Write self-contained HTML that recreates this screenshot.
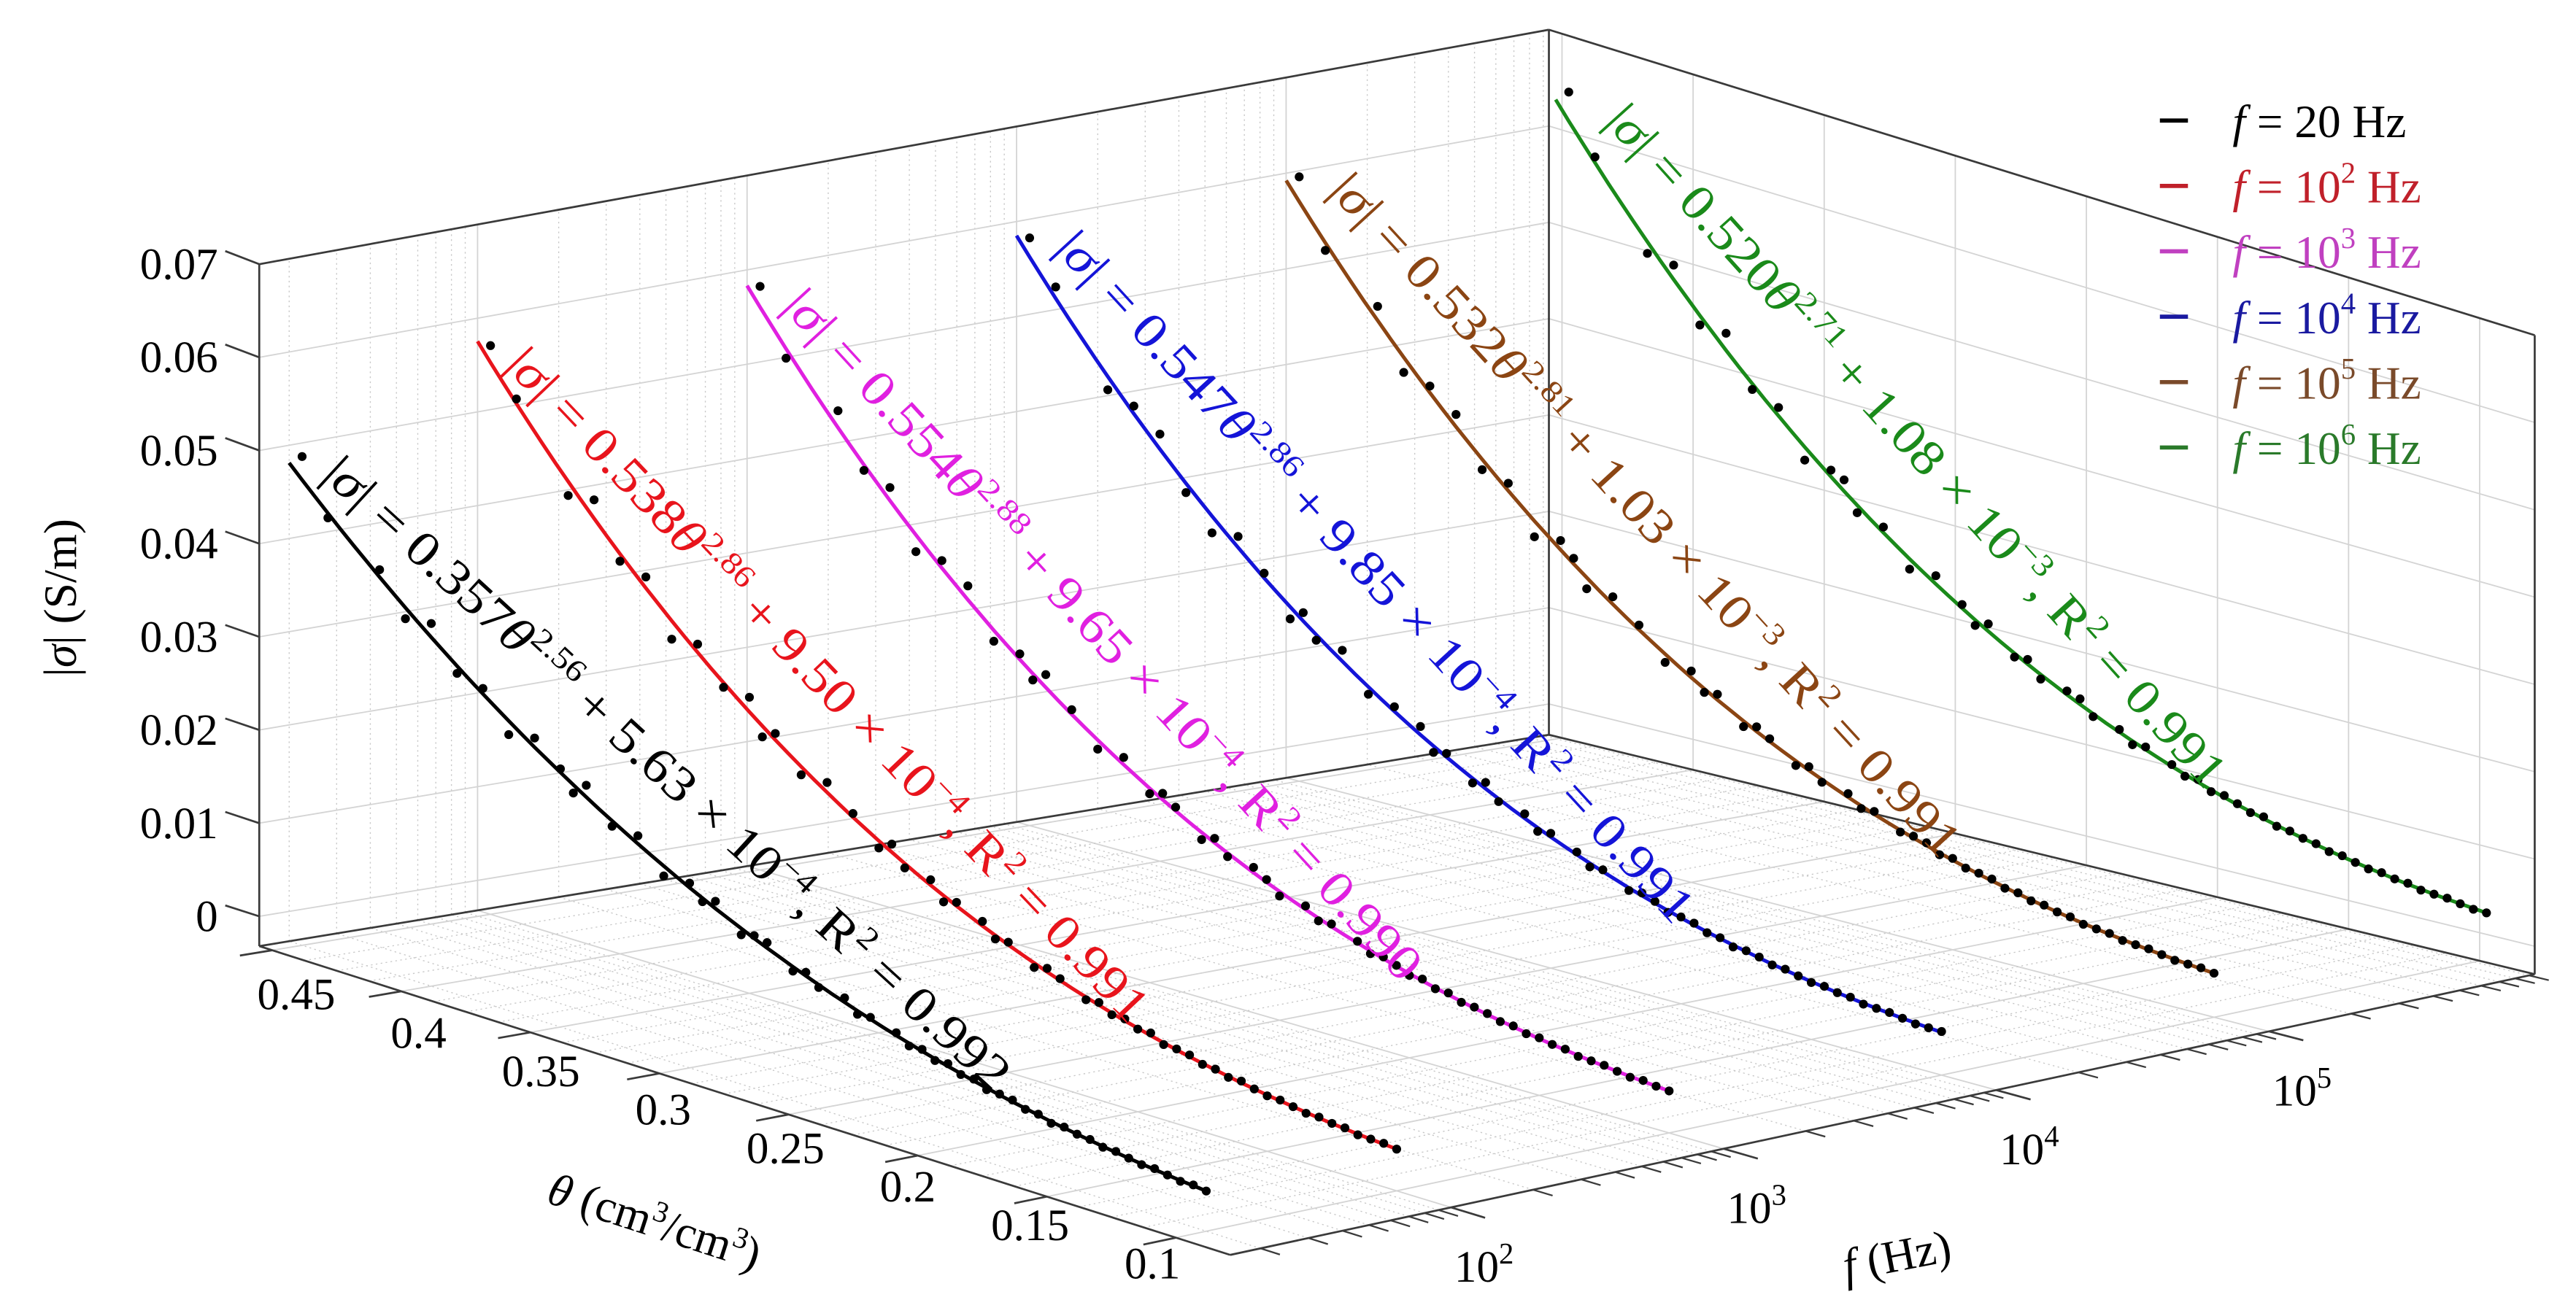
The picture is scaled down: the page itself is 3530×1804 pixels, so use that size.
<!DOCTYPE html>
<html><head><meta charset="utf-8"><title>Conductivity vs water content</title>
<style>html,body{margin:0;padding:0;background:#fff}svg{display:block}</style></head>
<body>
<svg id="chart" xmlns="http://www.w3.org/2000/svg" width="3530" height="1804" viewBox="0 0 1560 797" preserveAspectRatio="none" font-family="'Liberation Serif', serif">
<rect x="0" y="0" width="1560" height="797" fill="#fff"/>
<g id="grid"></g>
<g id="box"></g>
<g id="ticks"></g>
<g id="series"></g>
<g id="eqs"></g>
<g font-size="28" id="legend"></g>
<text transform="translate(46,362) rotate(-90)" text-anchor="middle" font-size="28">|<tspan font-style="italic">σ</tspan>| (S/m)</text>
<text transform="translate(330,728) rotate(18)" font-size="28"><tspan font-style="italic">θ</tspan> (cm<tspan dy="-10" font-size="18">3</tspan><tspan dy="10">/cm</tspan><tspan dy="-10" font-size="18">3</tspan><tspan dy="10">)</tspan></text>
<text transform="translate(1118,776) rotate(-11)" font-size="28"><tspan font-style="italic">f</tspan> (Hz)</text>
</svg>
<script>
const freqs=[20,100,1000,10000,100000,1000000];
const coefs=[0.357,0.538,0.554,0.547,0.532,0.520];
const expos=[2.56,2.86,2.88,2.86,2.81,2.71];
const intercepts=[5.63e-4,9.50e-4,9.65e-4,9.85e-4,1.03e-3,1.08e-3];
const r2s=["0.992","0.991","0.990","0.991","0.991","0.991"];
const expLabels=["−4","−4","−4","−4","−3","−3"];
const mantissas=["5.63","9.50","9.65","9.85","1.03","1.08"];
const colors=["#000000","#e8141c","#e020e0","#1414d8","#8b4513","#1a8a1a"];
const legendColors=["#000000","#c0202a","#c040c0","#1a1aa0","#7a4a2a","#2a7a2a"];
const legendExp=["","2","3","4","5","6"];
const thetas=[0.45,0.44,0.42,0.41,0.40,0.39,0.38,0.37,0.36,0.35,
0.345,0.34,0.33,0.32,0.31,0.30,0.295,0.29,0.28,0.275,
0.27,0.26,0.255,0.25,0.24,0.235,0.23,0.22,0.215,0.21,
0.205,0.20,0.195,0.19,0.185,0.18,0.175,0.17,0.165,0.16,
0.155,0.15,0.145,0.14,0.135,0.13,0.125,0.12,0.115,0.11,0.105,0.10];
// residuals in 1e-3 S/m
const res0=[2.5,-0.5,0.8,-1.2,1.5,-0.8,0.6,-1.5,1.0,0.4,-0.9,1.3,-0.6,0.9,-1.1,0.5,-0.4,0.8,-0.7,0.3,0.6,-0.5,0.4,-0.3,0.5,-0.4,0.2,0.3,-0.3,0.2,-0.2,0.3,-0.1,0.2,-0.2,0.1,0.2,-0.1,0.1,-0.2,0.1,0.0,0.1,-0.1,0.1,0.0,-0.1,0.1,0.0,-0.1,0.1,0.0];
const res1=[1.8,0.5,-1.5,2.0,-0.8,1.2,-2.0,0.9,-0.5,1.6,-1.2,0.7,-0.9,1.1,0.4,-0.8,0.9,-0.5,0.6,-0.7,0.4,0.5,-0.4,0.3,-0.5,0.4,0.2,-0.3,0.3,-0.2,0.2,-0.1,0.3,-0.2,0.1,0.2,-0.1,0.1,-0.1,0.2,0.0,-0.1,0.1,0.0,-0.1,0.1,0.0,0.1,-0.1,0.0,0.1,0.0];
const res2=[2.2,-1.0,1.8,-0.6,1.4,-1.8,0.8,1.5,-1.2,0.6,-0.7,1.4,0.5,-1.0,0.8,-0.6,0.7,0.4,-0.8,0.5,-0.4,0.6,0.3,-0.5,0.4,-0.3,0.3,0.2,-0.3,0.2,0.1,-0.2,0.2,-0.1,0.2,-0.1,0.1,0.1,-0.1,0.1,-0.1,0.1,0.0,0.1,-0.1,0.0,0.1,0.0,-0.1,0.1,0.0,0.0];
const res3=[2.0,1.2,-1.4,0.8,1.6,-1.0,-1.8,1.2,0.5,-1.3,0.9,-0.6,1.2,-0.8,0.5,0.9,-0.7,0.4,-0.5,0.7,-0.3,0.5,-0.4,0.4,0.3,-0.4,0.2,-0.3,0.3,0.2,-0.2,0.1,0.2,-0.1,0.1,-0.2,0.1,0.1,-0.1,0.1,0.0,-0.1,0.1,0.0,0.1,-0.1,0.0,0.1,0.0,-0.1,0.0,0.1];
const res4=[2.6,-0.8,1.5,-1.6,0.7,1.3,-1.1,0.8,-1.7,1.0,0.6,-1.2,0.8,0.5,-0.9,0.7,-0.4,0.6,-0.6,0.5,0.3,-0.5,0.4,-0.3,0.4,-0.3,0.3,-0.2,0.2,0.3,-0.2,0.2,-0.1,0.1,0.2,-0.1,0.1,-0.1,0.1,0.0,0.1,-0.1,0.0,0.1,-0.1,0.0,0.1,0.0,-0.1,0.0,0.1,0.0];
const res5=[3.0,0.6,-1.2,1.5,-1.0,1.8,-0.6,0.9,-1.4,0.7,1.2,-0.8,0.6,-1.1,0.9,0.4,-0.6,0.8,-0.4,0.5,-0.5,0.4,0.6,-0.3,0.3,-0.4,0.3,0.2,-0.2,0.3,-0.2,0.2,0.1,-0.1,0.2,-0.1,0.1,0.0,0.1,-0.1,0.1,0.0,-0.1,0.1,0.0,0.1,-0.1,0.0,0.1,0.0,-0.1,0.0];
const residuals=[res0,res1,res2,res3,res4,res5];
const zTicks=[0,0.01,0.02,0.03,0.04,0.05,0.06,0.07];
const zTickLabels=["0","0.01","0.02","0.03","0.04","0.05","0.06","0.07"];
const thetaTicks=[0.1,0.15,0.2,0.25,0.3,0.35,0.4,0.45];
const thetaTickLabels=["0.1","0.15","0.2","0.25","0.3","0.35","0.4","0.45"];
const fDecades=[2,3,4,5];

const NS="http://www.w3.org/2000/svg";
const ZMIN=-0.0032,ZMAX=0.07,TH0=0.079,TH1=0.455,LF0=1.19,LF1=5.975;
const C={F:[745,760,373],L:[157,573,413],B:[938,445,427],R:[1535,590,387]};
function uOf(t){return (t-TH0)/(TH1-TH0);}
function vOf(f){return (Math.log10(f)-LF0)/(LF1-LF0);}
function P(u,v,s){
  const a=(1-u)*(1-v),b=u*(1-v),c=u*v,d=(1-u)*v;
  const x=a*C.F[0]+b*C.L[0]+c*C.B[0]+d*C.R[0];
  const y=a*C.F[1]+b*C.L[1]+c*C.B[1]+d*C.R[1];
  const h=a*C.F[2]+b*C.L[2]+c*C.B[2]+d*C.R[2];
  return [x,y-(s-ZMIN)/(ZMAX-ZMIN)*h];
}
function mk(tag,attrs,parent){const e=document.createElementNS(NS,tag);for(const k in attrs)e.setAttribute(k,attrs[k]);parent.appendChild(e);return e;}
function ln(p,q,st,w,dash,parent,name){
  const e=mk('line',{x1:p[0],y1:p[1],x2:q[0],y2:q[1],stroke:st,'stroke-width':w},parent);
  if(dash)e.setAttribute('stroke-dasharray',dash);
  
  
  return e;
}
const grid=document.getElementById('grid'),box=document.getElementById('box'),tk=document.getElementById('ticks');
const GC="#d4d4d4",MC="#c8c8c8";
const fMinors=[];for(let d=1;d<=6;d++)for(let m=2;m<=9;m++){const lf=d+Math.log10(m);if(lf>LF0&&lf<LF1)fMinors.push(Math.pow(10,lf));}
// floor
fMinors.forEach(f=>{const v=vOf(f);ln(P(0,v,ZMIN),P(1,v,ZMIN),MC,0.6,"1 2",grid,'floor-minor-f');});
fDecades.forEach(d=>{const v=vOf(Math.pow(10,d));ln(P(0,v,ZMIN),P(1,v,ZMIN),GC,0.8,null,grid,'floor-grid-f');});
for(let t=0.1125;t<0.455;t+=0.0125){const u=uOf(t);ln(P(u,0,ZMIN),P(u,1,ZMIN),MC,0.6,"1 2",grid,'floor-minor-theta');}
thetaTicks.forEach(t=>{const u=uOf(t);ln(P(u,0,ZMIN),P(u,1,ZMIN),GC,0.8,null,grid,'floor-grid-theta');});
// left wall u=1
fMinors.forEach(f=>{const v=vOf(f);ln(P(1,v,ZMIN),P(1,v,ZMAX),MC,0.6,"1 2",grid,'left-wall-minor-f');});
fDecades.forEach(d=>{const v=vOf(Math.pow(10,d));ln(P(1,v,ZMIN),P(1,v,ZMAX),GC,0.8,null,grid,'left-wall-grid-f');});
zTicks.forEach(z=>{ln(P(1,0,z),P(1,1,z),GC,0.8,null,grid,'left-wall-grid-z');ln(P(0,1,z),P(1,1,z),GC,0.8,null,grid,'right-wall-grid-z');});
// right wall v=1
thetaTicks.forEach(t=>{const u=uOf(t);ln(P(u,1,ZMIN),P(u,1,ZMAX),GC,0.8,null,grid,'right-wall-grid-theta');});
// box edges
const E="#3a3a3a";
[[[1,0,ZMIN],[1,0,ZMAX]],[[1,1,ZMIN],[1,1,ZMAX]],[[0,1,ZMIN],[0,1,ZMAX]],[[1,0,ZMAX],[1,1,ZMAX]],[[1,1,ZMAX],[0,1,ZMAX]],
 [[1,0,ZMIN],[1,1,ZMIN]],[[1,1,ZMIN],[0,1,ZMIN]],[[1,0,ZMIN],[0,0,ZMIN]],[[0,0,ZMIN],[0,1,ZMIN]]].forEach(e=>{
  ln(P(...e[0]),P(...e[1]),E,1.2,null,box,'box-edge');});
// z ticks
zTicks.forEach((z,i)=>{const p=P(1,0,z),q=P(1.035,0,z);ln(p,q,E,1.2,null,tk,'z-tick');
  const t=mk('text',{x:132,y:p[1]+9,'text-anchor':'end','font-size':27},tk);t.textContent=zTickLabels[i];
  
  });
// theta ticks
thetaTicks.forEach((th,i)=>{const u=uOf(th),p=P(u,0,ZMIN),q=P(u,-0.025,ZMIN);ln(p,q,E,1.2,null,tk,'theta-tick');
  const t=mk('text',{x:p[0]-16+31*u,y:p[1]+24+12*u,'text-anchor':'middle','font-size':27},tk);t.textContent=thetaTickLabels[i];
  
  });
// f ticks
fMinors.forEach(f=>{const v=vOf(f);ln(P(0,v,ZMIN),P(-0.02,v,ZMIN),E,1,null,tk,'f-minor-tick');});
fDecades.forEach(d=>{const v=vOf(Math.pow(10,d)),p=P(0,v,ZMIN);ln(p,P(-0.035,v,ZMIN),E,1.2,null,tk,'f-tick');
  const t=mk('text',{x:p[0]+2,y:p[1]+45,'font-size':27},tk);t.innerHTML='10<tspan dy="-11" font-size="18">'+d+'</tspan>';
  
  });
// series
const sg=document.getElementById('series');
freqs.forEach((f,i)=>{const v=vOf(f);let pts=[];
  for(let th=0.1;th<=0.4551;th+=0.005){const s=coefs[i]*Math.pow(th,expos[i])+intercepts[i];const p=P(uOf(th),v,s);pts.push(p[0].toFixed(1)+','+p[1].toFixed(1));}
  const pl=mk('polyline',{points:pts.join(' '),fill:'none',stroke:colors[i],'stroke-width':2.2},sg);
  
  
  thetas.forEach((th,k)=>{const s=coefs[i]*Math.pow(th,expos[i])+intercepts[i]+residuals[i][k]*1e-3;const p=P(uOf(th),v,s);
    const c=mk('circle',{cx:p[0],cy:p[1],r:2.7,fill:'#000'},sg);
    
    });
});
// equations
const eqPos=[[194,289,42.5,552],[305,222,46.5,550],[473,186,47.5,556],[638,151,47.5,556],[804,116,47.5,549],[971,74,48,545]];
const eg=document.getElementById('eqs');
freqs.forEach((f,i)=>{const q=eqPos[i];
  const t=mk('text',{transform:'translate('+q[0]+','+q[1]+') rotate('+q[2]+')',fill:colors[i],'font-size':30,'font-family':"'Liberation Serif', serif",textLength:q[3],lengthAdjust:'spacingAndGlyphs'},eg);
  t.innerHTML='|<tspan font-style="italic">σ</tspan>| = '+coefs[i].toFixed(3)+'<tspan font-style="italic">θ</tspan><tspan dy="-12" font-size="19">'+expos[i].toFixed(2)+'</tspan><tspan dy="12"> + '+mantissas[i]+' × 10</tspan><tspan dy="-12" font-size="19">'+expLabels[i]+'</tspan><tspan dy="12">, R</tspan><tspan dy="-12" font-size="19">2</tspan><tspan dy="12"> = '+r2s[i]+'</tspan>';
  
  });
// legend
const lg=document.getElementById('legend');
freqs.forEach((f,i)=>{const y=73+i*39.6;
  ln([1308,y],[1325,y],legendColors[i],2.5,null,lg,'legend-swatch');
  const t=mk('text',{x:1352,y:y+10,fill:legendColors[i]},lg);
  t.innerHTML='<tspan font-style="italic">f</tspan> = '+(i===0?'20  Hz':'10<tspan dy="-12" font-size="18">'+legendExp[i]+'</tspan><tspan dy="12"> Hz</tspan>');
  
  });
</script>
</body></html>
